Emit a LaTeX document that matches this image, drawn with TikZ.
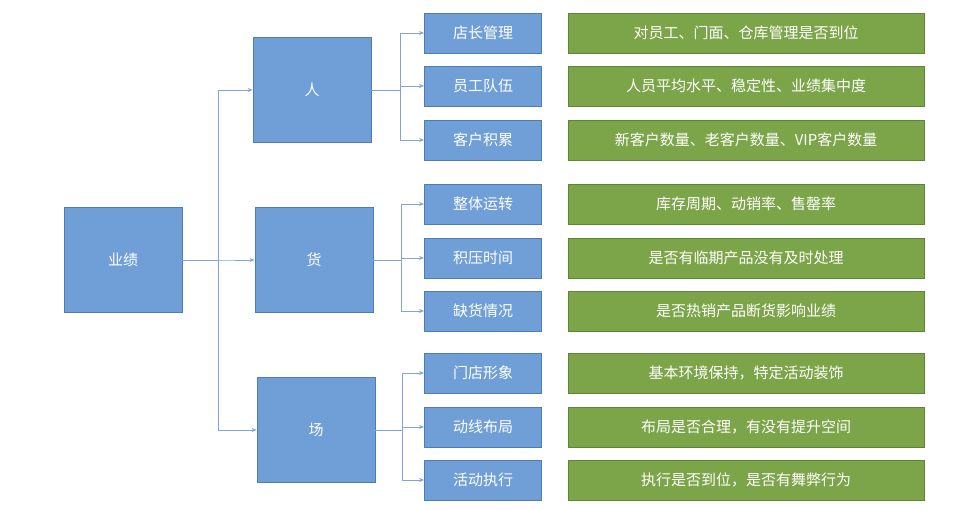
\documentclass[tikz,border=0pt]{standalone}
\usepackage{fontspec}
\setmainfont{Noto Sans CJK SC}
\usetikzlibrary{arrows.meta}
\definecolor{bfill}{HTML}{6F9FD6}
\definecolor{bdraw}{HTML}{4C7DB8}
\definecolor{gfill}{HTML}{7BA548}
\definecolor{gdraw}{HTML}{5E8535}
\definecolor{conn}{HTML}{7FA6D6}
\tikzset{
 bbox/.style={draw=bdraw,fill=bfill,line width=0.8pt,text=white,font=\fontsize{15}{15}\selectfont,inner sep=0pt},
 gbox/.style={draw=gdraw,fill=gfill,line width=0.8pt,text=white,font=\fontsize{15}{15}\selectfont,inner sep=0pt},
 link/.style={draw=conn,line width=0.8pt,-{Stealth[length=5pt,width=4pt]}}
}
\begin{document}
\begin{tikzpicture}[x=1pt,y=-1pt]
\fill[white] (0,0) rectangle (955,510);
\useasboundingbox (0,0) rectangle (955,510);
\node[bbox,minimum width=118pt,minimum height=105pt] (root) at (123,260) {业绩};
\node[bbox,minimum width=118pt,minimum height=105pt] (p) at (312,90) {人};
\node[bbox,minimum width=118pt,minimum height=105pt] (h) at (314,260) {货};
\node[bbox,minimum width=118pt,minimum height=105pt] (c) at (316,430) {场};
\coordinate (j0) at (218,260);
\foreach \n in {p,h,c}{\draw[link] (root.east) -- (j0) |- (\n.west);}
\foreach \n/\y/\t/\g in {a1/33/店长管理/对员工、门面、仓库管理是否到位,
 a2/86/员工队伍/人员平均水平、稳定性、业绩集中度,
 a3/140/客户积累/新客户数量、老客户数量、VIP客户数量,
 b1/204/整体运转/库存周期、动销率、售罄率,
 b2/258/积压时间/是否有临期产品没有及时处理,
 b3/311/缺货情况/是否热销产品断货影响业绩,
 c1/373/门店形象/基本环境保持，特定活动装饰,
 c2/427/动线布局/布局是否合理，有没有提升空间,
 c3/480/活动执行/执行是否到位，是否有舞弊行为}{
 \node[bbox,minimum width=117pt,minimum height=40pt] (\n) at (483,\y) {\t};
 \node[gbox,minimum width=356pt,minimum height=40pt] (g\n) at (746,\y) {\g};
}
\coordinate (jp) at (400,90);
\coordinate (jh) at (401,260);
\coordinate (jc) at (402,430);
\foreach \n in {a1,a2,a3}{\draw[link] (p.east) -- (jp) |- (\n.west);}
\foreach \n in {b1,b2,b3}{\draw[link] (h.east) -- (jh) |- (\n.west);}
\foreach \n in {c1,c2,c3}{\draw[link] (c.east) -- (jc) |- (\n.west);}
\end{tikzpicture}
\end{document}
